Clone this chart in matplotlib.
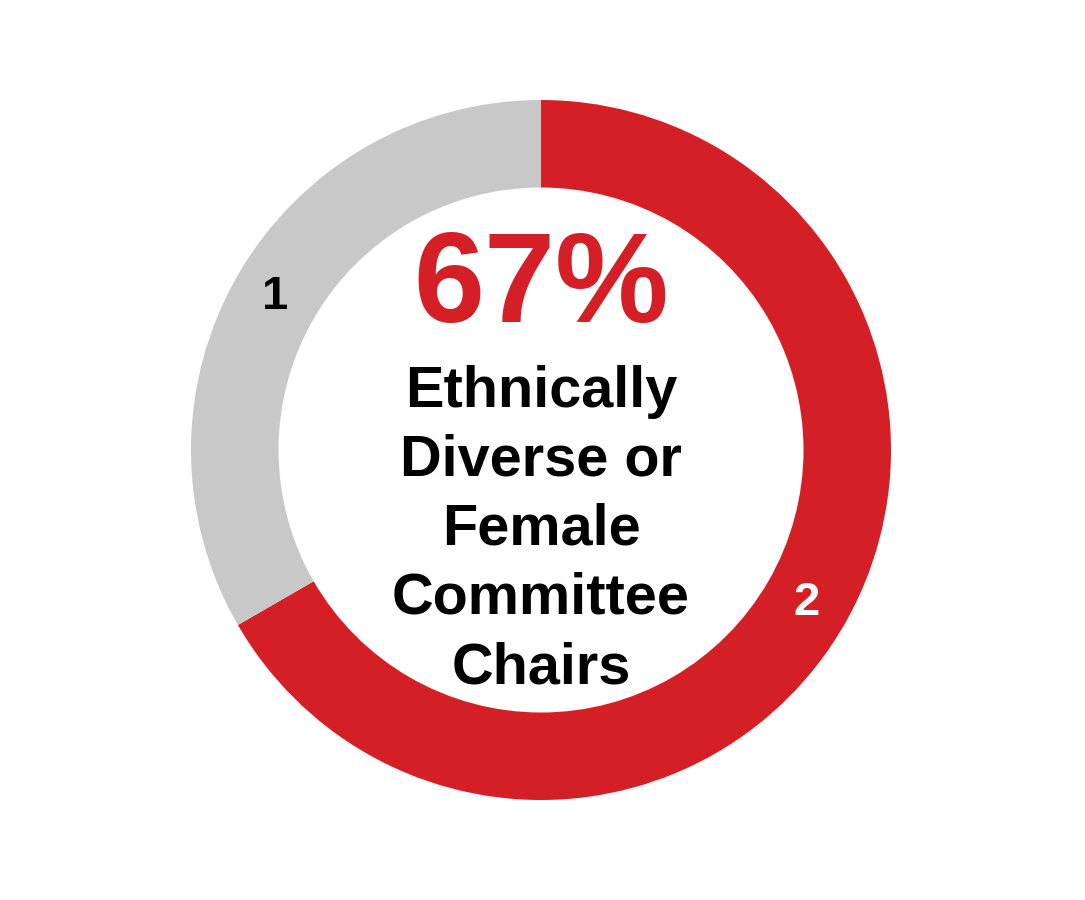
import matplotlib.pyplot as plt

plt.rcParams['font.family'] = ['Liberation Sans', 'DejaVu Sans']

# data
values = [2, 1]
labels = ['2', '1']
colors = ['#D41F26', '#C8C8C8']
label_colors = ['white', 'black']
pct_text = '67%'
center_text = 'Ethnically\nDiverse or\nFemale\nCommittee\nChairs'

fig = plt.figure(figsize=(10.85, 9), dpi=100)
ax = fig.add_axes([0, 0, 1, 1])

wedges, texts = ax.pie(values, labels=labels, colors=colors, startangle=90,
                       counterclock=False, radius=1.0, labeldistance=0.876,
                       wedgeprops=dict(width=0.25, edgecolor='none'),
                       textprops=dict(fontsize=34, fontweight='bold'))
for t, c in zip(texts, label_colors):
    t.set_color(c)
    t.set_ha('center')
    t.set_va('center')

ax.text(0, 0.46, pct_text, ha='center', va='center', fontsize=92,
        fontweight='bold', color='#D41F26')
ax.text(0, -0.228, center_text, ha='center', va='center', fontsize=41.5,
        fontweight='bold', color='black', linespacing=1.36)

ax.set_xlim(-541 / 350, 544 / 350)
ax.set_ylim(-450 / 350, 450 / 350)
ax.set_aspect('equal')
ax.axis('off')

fig.savefig('out.png', dpi=100, facecolor='white')
